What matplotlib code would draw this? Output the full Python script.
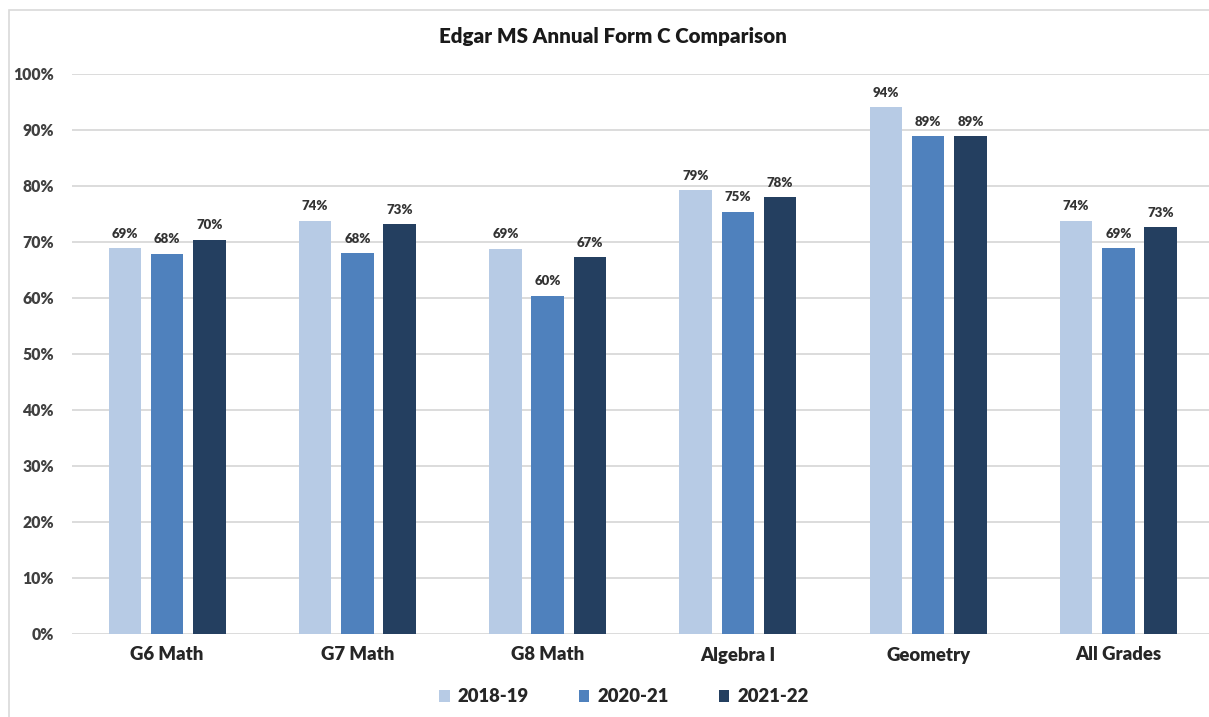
import matplotlib

matplotlib.use("Agg")
import matplotlib.pyplot as plt
import numpy as np
from matplotlib.patches import Patch, Rectangle
from matplotlib.ticker import FuncFormatter, MultipleLocator

plt.rcParams["font.family"] = ["Lato", "DejaVu Sans"]

categories = ["G6 Math", "G7 Math", "G8 Math", "Algebra I", "Geometry", "All Grades"]
years = ["2018-19", "2020-21", "2021-22"]
pct_2018_19 = [68.9, 73.8, 68.8, 79.3, 94.1, 73.8]
pct_2020_21 = [67.9, 68.0, 60.4, 75.4, 88.9, 68.9]
pct_2021_22 = [70.4, 73.2, 67.3, 78.0, 88.9, 72.7]
colors = ["#B7CBE5", "#4F81BD", "#243F60"]

W, H = 1209, 717
fig = plt.figure(figsize=(W / 100, H / 100), dpi=100)

# outer chart frame
fig.patches.append(Rectangle((9 / W, -0.05), 1.1, (H - 10) / H + 0.05,
                             transform=fig.transFigure, fill=False,
                             edgecolor="#d9d9d9", linewidth=1.2))

ax = fig.add_axes([72 / W, (H - 634) / H, (W - 72) / W, 560 / H])

x = np.arange(len(categories))
width = 0.171
offset = 0.222
for i, (vals, col) in enumerate(zip([pct_2018_19, pct_2020_21, pct_2021_22], colors)):
    bars = ax.bar(x + (i - 1) * offset, vals, width, color=col, zorder=3)
    for b, v in zip(bars, vals):
        ax.annotate(f"{v:.0f}%", (b.get_x() + b.get_width() / 2, v),
                    xytext=(0, 6), textcoords="offset points",
                    ha="center", va="bottom", fontsize=9.5, fontweight="heavy",
                    color="#333333")

ax.set_xlim(-0.5, 5.476)
ax.set_ylim(0, 100)
ax.yaxis.set_major_locator(MultipleLocator(10))
ax.yaxis.set_major_formatter(FuncFormatter(lambda v, _: f"{v:.0f}%"))
ax.grid(axis="y", color="#d9d9d9", linewidth=1.3, zorder=0)
for s in ax.spines.values():
    s.set_visible(False)
ax.tick_params(axis="y", length=0, pad=13, labelsize=11.3, labelcolor="#404040")
ax.tick_params(axis="x", length=0, pad=9, labelsize=13.3, labelcolor="#262626")
for lbl in ax.get_yticklabels():
    lbl.set_fontweight("heavy")
ax.set_xticks(x)
ax.set_xticklabels(categories, fontweight="heavy")

fig.text(613 / W, 1 - 37 / H, "Edgar MS Annual Form C Comparison",
         ha="center", va="center", fontsize=14.8, fontweight="heavy", color="#1a1a1a")

handles = [Patch(facecolor=c, label=y) for c, y in zip(colors, years)]
fig.legend(handles=handles, loc="center", bbox_to_anchor=(624 / W, 1 - 697 / H),
           ncol=3, frameon=False, handlelength=0.55, handleheight=0.55,
           handletextpad=0.42, columnspacing=2.75,
           prop={"weight": "heavy", "size": 13.3}, labelcolor="#262626")

fig.savefig("out.png", dpi=100)
